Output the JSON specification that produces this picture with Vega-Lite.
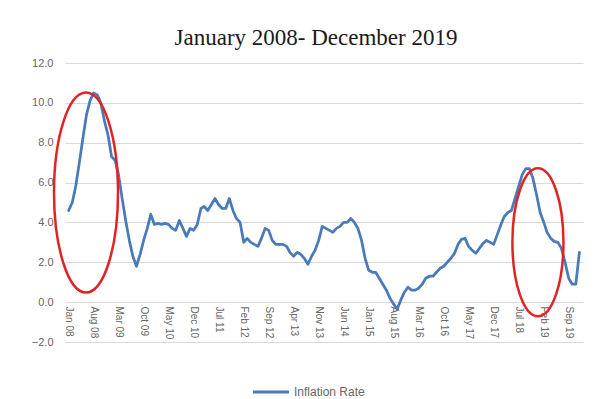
{
  "$schema": "https://vega.github.io/schema/vega-lite/v6.json",
  "width": 518,
  "height": 279,
  "autosize": {"type": "none"},
  "padding": {"left": 65, "top": 63, "right": 14, "bottom": 57},
  "background": "white",
  "title": {
    "text": "January 2008- December 2019",
    "font": "Liberation Serif",
    "fontSize": 23,
    "fontWeight": "normal",
    "color": "#1a1a1a",
    "anchor": "middle",
    "dx": -8,
    "offset": 7
  },
  "config": {
    "view": {"stroke": null},
    "axis": {"labelFont": "Liberation Sans", "labelColor": "#666666"}
  },
  "layer": [
    {
      "data": {
        "values": [
          {"date": "2008-01-01", "value": 4.6}, {"date": "2008-02-01", "value": 5.0}, {"date": "2008-03-01", "value": 5.8}, {"date": "2008-04-01", "value": 7.0},
          {"date": "2008-05-01", "value": 8.2}, {"date": "2008-06-01", "value": 9.4}, {"date": "2008-07-01", "value": 10.1}, {"date": "2008-08-01", "value": 10.5},
          {"date": "2008-09-01", "value": 10.4}, {"date": "2008-10-01", "value": 10.0}, {"date": "2008-11-01", "value": 9.1}, {"date": "2008-12-01", "value": 8.4},
          {"date": "2009-01-01", "value": 7.3}, {"date": "2009-02-01", "value": 7.1}, {"date": "2009-03-01", "value": 6.4}, {"date": "2009-04-01", "value": 5.2},
          {"date": "2009-05-01", "value": 4.1}, {"date": "2009-06-01", "value": 3.1}, {"date": "2009-07-01", "value": 2.3}, {"date": "2009-08-01", "value": 1.8},
          {"date": "2009-09-01", "value": 2.4}, {"date": "2009-10-01", "value": 3.1}, {"date": "2009-11-01", "value": 3.7}, {"date": "2009-12-01", "value": 4.4},
          {"date": "2010-01-01", "value": 3.9}, {"date": "2010-02-01", "value": 3.95}, {"date": "2010-03-01", "value": 3.9}, {"date": "2010-04-01", "value": 3.95},
          {"date": "2010-05-01", "value": 3.9}, {"date": "2010-06-01", "value": 3.7}, {"date": "2010-07-01", "value": 3.6}, {"date": "2010-08-01", "value": 4.1},
          {"date": "2010-09-01", "value": 3.7}, {"date": "2010-10-01", "value": 3.3}, {"date": "2010-11-01", "value": 3.7}, {"date": "2010-12-01", "value": 3.6},
          {"date": "2011-01-01", "value": 3.9}, {"date": "2011-02-01", "value": 4.7}, {"date": "2011-03-01", "value": 4.8}, {"date": "2011-04-01", "value": 4.6},
          {"date": "2011-05-01", "value": 4.9}, {"date": "2011-06-01", "value": 5.2}, {"date": "2011-07-01", "value": 4.9}, {"date": "2011-08-01", "value": 4.7},
          {"date": "2011-09-01", "value": 4.7}, {"date": "2011-10-01", "value": 5.2}, {"date": "2011-11-01", "value": 4.6}, {"date": "2011-12-01", "value": 4.2},
          {"date": "2012-01-01", "value": 4.0}, {"date": "2012-02-01", "value": 3.0}, {"date": "2012-03-01", "value": 3.2}, {"date": "2012-04-01", "value": 3.0},
          {"date": "2012-05-01", "value": 2.9}, {"date": "2012-06-01", "value": 2.8}, {"date": "2012-07-01", "value": 3.2}, {"date": "2012-08-01", "value": 3.7},
          {"date": "2012-09-01", "value": 3.6}, {"date": "2012-10-01", "value": 3.1}, {"date": "2012-11-01", "value": 2.9}, {"date": "2012-12-01", "value": 2.9},
          {"date": "2013-01-01", "value": 2.9}, {"date": "2013-02-01", "value": 2.8}, {"date": "2013-03-01", "value": 2.5}, {"date": "2013-04-01", "value": 2.3},
          {"date": "2013-05-01", "value": 2.5}, {"date": "2013-06-01", "value": 2.4}, {"date": "2013-07-01", "value": 2.2}, {"date": "2013-08-01", "value": 1.9},
          {"date": "2013-09-01", "value": 2.3}, {"date": "2013-10-01", "value": 2.6}, {"date": "2013-11-01", "value": 3.1}, {"date": "2013-12-01", "value": 3.8},
          {"date": "2014-01-01", "value": 3.7}, {"date": "2014-02-01", "value": 3.6}, {"date": "2014-03-01", "value": 3.5}, {"date": "2014-04-01", "value": 3.7},
          {"date": "2014-05-01", "value": 3.8}, {"date": "2014-06-01", "value": 4.0}, {"date": "2014-07-01", "value": 4.0}, {"date": "2014-08-01", "value": 4.2},
          {"date": "2014-09-01", "value": 4.0}, {"date": "2014-10-01", "value": 3.7}, {"date": "2014-11-01", "value": 3.1}, {"date": "2014-12-01", "value": 2.2},
          {"date": "2015-01-01", "value": 1.6}, {"date": "2015-02-01", "value": 1.5}, {"date": "2015-03-01", "value": 1.5}, {"date": "2015-04-01", "value": 1.2},
          {"date": "2015-05-01", "value": 0.9}, {"date": "2015-06-01", "value": 0.6}, {"date": "2015-07-01", "value": 0.2}, {"date": "2015-08-01", "value": -0.1},
          {"date": "2015-09-01", "value": -0.35}, {"date": "2015-10-01", "value": 0.1}, {"date": "2015-11-01", "value": 0.5}, {"date": "2015-12-01", "value": 0.75},
          {"date": "2016-01-01", "value": 0.6}, {"date": "2016-02-01", "value": 0.6}, {"date": "2016-03-01", "value": 0.7}, {"date": "2016-04-01", "value": 0.9},
          {"date": "2016-05-01", "value": 1.2}, {"date": "2016-06-01", "value": 1.3}, {"date": "2016-07-01", "value": 1.3}, {"date": "2016-08-01", "value": 1.5},
          {"date": "2016-09-01", "value": 1.7}, {"date": "2016-10-01", "value": 1.8}, {"date": "2016-11-01", "value": 2.0}, {"date": "2016-12-01", "value": 2.2},
          {"date": "2017-01-01", "value": 2.45}, {"date": "2017-02-01", "value": 2.9}, {"date": "2017-03-01", "value": 3.15}, {"date": "2017-04-01", "value": 3.2},
          {"date": "2017-05-01", "value": 2.8}, {"date": "2017-06-01", "value": 2.6}, {"date": "2017-07-01", "value": 2.45}, {"date": "2017-08-01", "value": 2.7},
          {"date": "2017-09-01", "value": 2.95}, {"date": "2017-10-01", "value": 3.1}, {"date": "2017-11-01", "value": 3.0}, {"date": "2017-12-01", "value": 2.9},
          {"date": "2018-01-01", "value": 3.4}, {"date": "2018-02-01", "value": 3.9}, {"date": "2018-03-01", "value": 4.3}, {"date": "2018-04-01", "value": 4.5},
          {"date": "2018-05-01", "value": 4.6}, {"date": "2018-06-01", "value": 5.2}, {"date": "2018-07-01", "value": 5.8}, {"date": "2018-08-01", "value": 6.4},
          {"date": "2018-09-01", "value": 6.7}, {"date": "2018-10-01", "value": 6.7}, {"date": "2018-11-01", "value": 6.2}, {"date": "2018-12-01", "value": 5.4},
          {"date": "2019-01-01", "value": 4.5}, {"date": "2019-02-01", "value": 4.0}, {"date": "2019-03-01", "value": 3.5}, {"date": "2019-04-01", "value": 3.2},
          {"date": "2019-05-01", "value": 3.05}, {"date": "2019-06-01", "value": 3.0}, {"date": "2019-07-01", "value": 2.7}, {"date": "2019-08-01", "value": 2.0},
          {"date": "2019-09-01", "value": 1.2}, {"date": "2019-10-01", "value": 0.9}, {"date": "2019-11-01", "value": 0.9}, {"date": "2019-12-01", "value": 2.5}
        ]
      },
      "mark": {"type": "line", "strokeWidth": 2.75, "strokeJoin": "round", "strokeCap": "round"},
      "encoding": {
        "x": {
          "field": "date",
          "type": "temporal",
          "scale": {
            "type": "utc",
            "domain": [
              {"year": 2007, "month": 12, "date": 1, "utc": true},
              {"year": 2020, "month": 1, "date": 1, "utc": true}
            ]
          },
          "axis": {
            "title": null,
            "orient": "bottom",
            "offset": -40,
            "domain": false,
            "ticks": false,
            "grid": false,
            "labelAngle": 90,
            "labelFontSize": 10,
            "labelPadding": 4,
            "format": "%b %y",
            "tickCount": 50,
            "labelOverlap": false,
            "labelFlush": false,
            "values": [
              {"year": 2008, "month": 1, "date": 1, "utc": true},
              {"year": 2008, "month": 8, "date": 1, "utc": true},
              {"year": 2009, "month": 3, "date": 1, "utc": true},
              {"year": 2009, "month": 10, "date": 1, "utc": true},
              {"year": 2010, "month": 5, "date": 1, "utc": true},
              {"year": 2010, "month": 12, "date": 1, "utc": true},
              {"year": 2011, "month": 7, "date": 1, "utc": true},
              {"year": 2012, "month": 2, "date": 1, "utc": true},
              {"year": 2012, "month": 9, "date": 1, "utc": true},
              {"year": 2013, "month": 4, "date": 1, "utc": true},
              {"year": 2013, "month": 11, "date": 1, "utc": true},
              {"year": 2014, "month": 6, "date": 1, "utc": true},
              {"year": 2015, "month": 1, "date": 1, "utc": true},
              {"year": 2015, "month": 8, "date": 1, "utc": true},
              {"year": 2016, "month": 3, "date": 1, "utc": true},
              {"year": 2016, "month": 10, "date": 1, "utc": true},
              {"year": 2017, "month": 5, "date": 1, "utc": true},
              {"year": 2017, "month": 12, "date": 1, "utc": true},
              {"year": 2018, "month": 7, "date": 1, "utc": true},
              {"year": 2019, "month": 2, "date": 1, "utc": true},
              {"year": 2019, "month": 9, "date": 1, "utc": true}
            ]
          }
        },
        "y": {
          "field": "value",
          "type": "quantitative",
          "scale": {"domain": [-2, 12], "nice": false, "zero": false},
          "axis": {
            "title": null,
            "values": [-2, 0, 2, 4, 6, 8, 10, 12],
            "tickCount": 20,
            "format": ".1f",
            "domain": false,
            "ticks": false,
            "grid": true,
            "gridColor": "#d9d9d9",
            "gridWidth": 1,
            "labelFontSize": 11,
            "labelPadding": 12,
            "labelOverlap": false
          }
        },
        "color": {
          "datum": "Inflation Rate",
          "scale": {"range": ["#4a7ab8"]},
          "legend": {
            "title": null,
            "orient": "none",
            "legendX": 186,
            "legendY": 309,
            "symbolType": "stroke",
            "symbolSize": 1300,
            "symbolStrokeWidth": 3,
            "labelFont": "Liberation Sans",
            "labelFontSize": 12,
            "labelColor": "#666666",
            "labelOffset": 3
          }
        }
      }
    },
    {
      "data": {"values": [{"note": "first", "date": "2008-05-28", "value": 5.5}]},
      "mark": {
        "type": "point",
        "shape": "M 0.32 0 C 0.32 0.5523 0.1767 1 0 1 C -0.1767 1 -0.32 0.5523 -0.32 0 C -0.32 -0.5523 -0.1767 -1 0 -1 C 0.1767 -1 0.32 -0.5523 0.32 0 Z",
        "size": 40000,
        "filled": false,
        "stroke": "#e02424",
        "strokeWidth": 2.5,
        "opacity": 1
      },
      "encoding": {
        "x": {"field": "date", "type": "temporal"},
        "y": {"field": "value", "type": "quantitative"}
      }
    },
    {
      "data": {"values": [{"note": "second", "date": "2018-12-13", "value": 3.0}]},
      "mark": {
        "type": "point",
        "shape": "M 0.345 0 C 0.345 0.5523 0.1905 1 0 1 C -0.1905 1 -0.345 0.5523 -0.345 0 C -0.345 -0.5523 -0.1905 -1 0 -1 C 0.1905 -1 0.345 -0.5523 0.345 0 Z",
        "size": 21904,
        "filled": false,
        "stroke": "#e02424",
        "strokeWidth": 2.5,
        "opacity": 1
      },
      "encoding": {
        "x": {"field": "date", "type": "temporal"},
        "y": {"field": "value", "type": "quantitative"}
      }
    }
  ]
}
